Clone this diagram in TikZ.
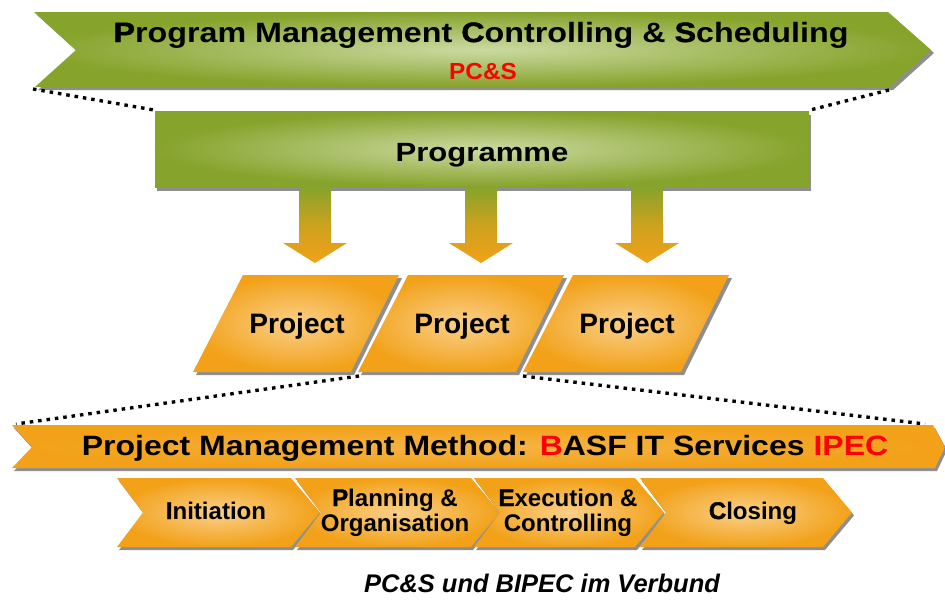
\documentclass[tikz,border=0pt]{standalone}
\usepackage{fontspec}
\usepackage{graphicx}
\setmainfont{Liberation Sans}
\newfontfamily\heavyfont[BoldFeatures={FakeBold=1.6}]{Liberation Sans}
\usetikzlibrary{calc}

\definecolor{grn}{HTML}{86A32B}
\definecolor{grnlt}{HTML}{CBDAA2}
\definecolor{org}{HTML}{F2A118}
\definecolor{orglt}{HTML}{FAD08A}
\definecolor{orgmid}{HTML}{F5B445}
\definecolor{shd}{HTML}{8E8E8E}
\definecolor{hired}{HTML}{FF0000}

% heavier initial letter
\newcommand{\ini}[1]{{\heavyfont\bfseries #1}}

\tikzset{
  greenbody/.style={inner color=grnlt, outer color=grn},
  orangebody/.style={inner color=orglt, outer color=org},
  bandbody/.style={inner color=orgmid, outer color=org},
  shadowfill/.style={fill=shd},
  dotline/.style={line width=1.9pt, dash pattern=on 2pt off 2.8pt, black},
  lbl/.style={inner sep=0pt, anchor=base},
  arrowbody/.style={top color=grn, bottom color=org, middle color=grn!35!org},
}

\begin{document}
\begin{tikzpicture}[x=0.02cm, y=-0.02cm]
\useasboundingbox (0,0) rectangle (945,599);
\fill[white] (0,0) rectangle (945,599);

% ---- programme level: top chevron band
\fill[shadowfill] (37,15) -- (891,15) -- (934,53) -- (893,90) -- (38,90) -- (79,53) -- cycle;
\shade[greenbody] (34,12) -- (888,12) -- (931,50) -- (890,87) -- (35,87) -- (76,50) -- cycle;
\node[lbl, font=\fontsize{15.9pt}{18pt}\selectfont\bfseries] (pcstitle) at (481,42)
  {\scalebox{1.155}[1]{\ini{P}rogram Management \ini{C}ontrolling \& \ini{S}cheduling}};
\node[lbl, font=\fontsize{13.2pt}{15pt}\selectfont\bfseries, text=hired] (pcsabbr) at (483,79)
  {\scalebox{1.05}[1]{PC\&S}};

% dotted zoom lines from the band to the programme box
\coordinate (zl1) at (33,89);
\coordinate (zr1) at (889,90);
\coordinate (pl) at (154,110);
\coordinate (pr) at (810,110);
\draw[dotline] (zl1) -- (pl);
\draw[dotline] (zr1) -- (pr);

% ---- programme box
\fill[shadowfill] (157,115) rectangle (811,191);
\shade[greenbody] (155,111) rectangle (809,187);
\node[lbl, font=\fontsize{15pt}{17pt}\selectfont\bfseries] (prog) at (482,161)
  {\scalebox{1.18}[1]{Programme}};

% ---- block arrows from programme to projects
\foreach \cx/\nm in {315/a1, 481/a2, 647/a3}{
  \shade[arrowbody] (\cx-16,187) -- (\cx+16,187) -- (\cx+16,243) -- (\cx+32,243)
     -- (\cx,263) -- (\cx-32,243) -- (\cx-16,243) -- cycle;
}

% dotted zoom lines from the projects to the method band
\coordinate (pj2bl) at (359,376);
\coordinate (pj3bl) at (523,376);
\coordinate (bl) at (16,424);
\coordinate (br) at (925,424);
\draw[dotline] (pj2bl) -- (bl);
\draw[dotline] (pj3bl) -- (br);

% ---- projects (parallelograms)
\foreach \xb/\nm in {193/pj1, 358/pj2, 523/pj3}{
  \fill[shadowfill] (\xb+3,375) -- (\xb+161,375) -- (\xb+209,278) -- (\xb+53,278) -- cycle;
  \shade[orangebody] (\xb,372) -- (\xb+158,372) -- (\xb+206,275) -- (\xb+50,275) -- cycle;
  \node[lbl, font=\fontsize{16pt}{18pt}\selectfont\bfseries] (\nm) at (\xb+104,333) {Project};
}

% ---- method band
\fill[shadowfill] (14,428) -- (935,428) -- (947,450) -- (937,471) -- (14,471) -- (34,450) -- cycle;
\shade[bandbody] (12,425) -- (933,425) -- (945,447) -- (935,468) -- (12,468) -- (32,447) -- cycle;
\node[lbl, font=\fontsize{15.9pt}{18pt}\selectfont\bfseries] (ipec) at (485,455)
  {\scalebox{1.145}[1]{Project Management Method: \textcolor{hired}{B}ASF IT Services \textcolor{hired}{IPEC}}};

% ---- phases (chevrons)
\foreach \L/\R in {117/291, 295/471, 474/635, 640/823}{
  \fill[shadowfill] (\L+2,481) -- (\R+2,481) -- (\R+31,515.5) -- (\R+2,550) -- (\L+2,550) -- (\L+28,515.5) -- cycle;
  \shade[orangebody] (\L,478) -- (\R,478) -- (\R+29,512.5) -- (\R,547) -- (\L,547) -- (\L+26,512.5) -- cycle;
}
\tikzset{phasetext/.style={lbl, font=\fontsize{13.7pt}{15pt}\selectfont\bfseries}}
\node[phasetext] (ph1) at (216,519) {\ini{I}nitiation};
\node[phasetext] (ph2a) at (395,506) {\ini{P}lanning \&};
\node[phasetext] (ph2b) at (395,531) {Organisation};
\node[phasetext] (ph3a) at (568,506) {\ini{E}xecution \&};
\node[phasetext] (ph3b) at (568,531) {Controlling};
\node[phasetext] (ph4) at (753,519) {\ini{C}losing};

% ---- caption
\node[lbl, font=\fontsize{14.5pt}{16pt}\selectfont\bfseries\itshape] (caption) at (542,592)
  {PC\&S und BIPEC im Verbund};
\end{tikzpicture}
\end{document}
